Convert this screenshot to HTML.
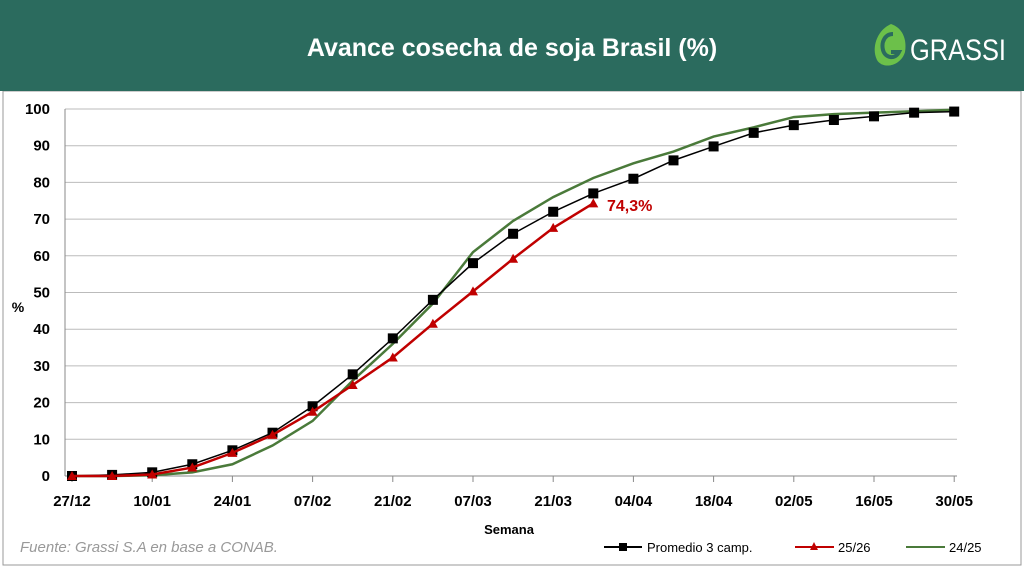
<!DOCTYPE html>
<html><head><meta charset="utf-8"><style>
body{margin:0;width:1024px;height:568px;background:#fff;overflow:hidden;font-family:"Liberation Sans",sans-serif}
</style></head><body>
<svg id="s" width="1024" height="568" xmlns="http://www.w3.org/2000/svg" font-family="Liberation Sans, sans-serif">
<rect x="0" y="0" width="1024" height="568" fill="#fff"/>
<rect x="3" y="91" width="1018" height="474" fill="none" stroke="#999" stroke-width="1"/>
<rect x="0" y="0" width="1024" height="91" fill="#2b6b5e"/>
<text x="512" y="56" text-anchor="middle" fill="#fff" font-size="25" font-weight="bold">Avance cosecha de soja Brasil (%)</text>
<g transform="translate(873,22)">
<path d="M18 2 C30 6 34 18 32 30 C28 44 10 48 4 38 C-2 26 4 8 18 2 Z" fill="#6cc04a"/>
<path d="M20 12 C12 12 8 20 10 28 C12 36 22 38 26 30 L18 30" fill="none" stroke="#2b6b5e" stroke-width="4"/>
</g>
<text x="910" y="60" fill="#fff" font-size="30" font-family="Liberation Sans, sans-serif" textLength="96" lengthAdjust="spacingAndGlyphs">GRASSI</text>
<g id="g"></g>
<text x="18" y="312" font-size="14" font-weight="bold" fill="#000" text-anchor="middle">%</text>
<text x="509" y="534" font-size="13" font-weight="bold" text-anchor="middle">Semana</text>
<text x="20" y="552" font-size="15" font-style="italic" fill="#999">Fuente: Grassi S.A en base a CONAB.</text>
<line x1="604" y1="547" x2="642" y2="547" stroke="#000" stroke-width="2"/><rect x="619" y="543" width="8" height="8" fill="#000"/>
<text x="647" y="552" font-size="13">Promedio 3 camp.</text>
<line x1="795" y1="547" x2="834" y2="547" stroke="#c00000" stroke-width="2"/><polygon points="814,542 818,550 810,550" fill="#c00000"/>
<text x="838" y="552" font-size="13">25/26</text>
<line x1="906" y1="547" x2="945" y2="547" stroke="#4a7a3a" stroke-width="2"/>
<text x="949" y="552" font-size="13">24/25</text>
<text x="607" y="211" font-size="16" font-weight="bold" fill="#c00000">74,3%</text>
</svg>
<script>
var ns="http://www.w3.org/2000/svg",g=document.getElementById("g"),h="";
function X(i){return 72+40.1*i}function Y(v){return 476-3.67*v}
for(var v=0;v<=100;v+=10){var y=Y(v);h+='<line x1="65" x2="957" y1="'+y+'" y2="'+y+'" stroke="'+(v==0?'#888':'#bbb')+'" stroke-width="1"/>';
h+='<text x="50" y="'+(y+5)+'" font-size="15" font-weight="bold" text-anchor="end">'+v+'</text>';}
h+='<line x1="65" x2="65" y1="109" y2="476" stroke="#888"/>';
var L=["27/12","10/01","24/01","07/02","21/02","07/03","21/03","04/04","18/04","02/05","16/05","30/05"];
for(var k=0;k<12;k++){var x=X(2*k);h+='<line x1="'+x+'" x2="'+x+'" y1="476" y2="482" stroke="#888"/><text x="'+x+'" y="506" font-size="15" font-weight="bold" text-anchor="middle">'+L[k]+'</text>';}
var B=[0,0.3,1,3.2,7,11.8,19,27.7,37.5,48,58,66,72,77,81,86,89.8,93.5,95.6,97,98,99,99.3];
var R=[0,0,0.4,2.3,6.3,11.2,17.5,24.8,32.3,41.5,50.3,59.2,67.6,74.3];
var G=[0,0,0.2,1,3.2,8.3,15,26,36,47,61,69.5,76,81.2,85.2,88.4,92.5,95,97.8,98.6,99,99.4,99.8];
function pl(a,c,w){return '<polyline fill="none" stroke="'+c+'" stroke-width="'+w+'" points="'+a.map(function(v,i){return X(i)+','+Y(v)}).join(' ')+'"/>';}
h+=pl(G,"#4a7a3a",2.5);h+=pl(B,"#000",1.5);
B.forEach(function(v,i){h+='<rect x="'+(X(i)-5)+'" y="'+(Y(v)-5)+'" width="10" height="10" fill="#000"/>';});
h+=pl(R,"#c00000",2.5);
R.forEach(function(v,i){var x=X(i),y=Y(v);h+='<polygon points="'+x+','+(y-5)+' '+(x+5)+','+(y+4)+' '+(x-5)+','+(y+4)+'" fill="#c00000"/>';});
g.innerHTML=h;
</script>
</body></html>
